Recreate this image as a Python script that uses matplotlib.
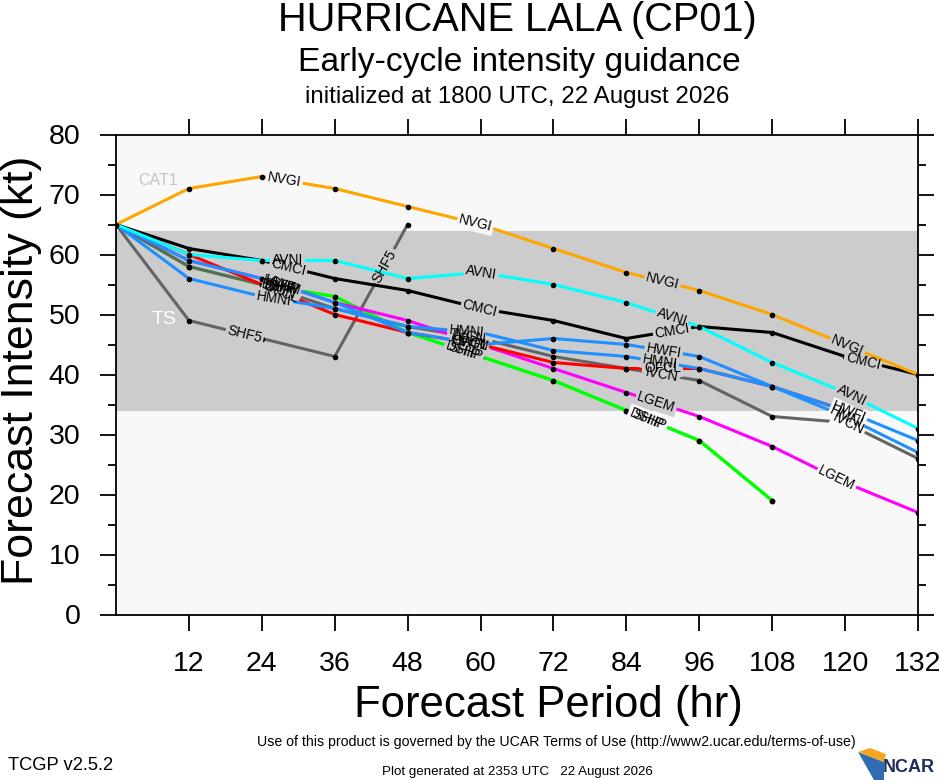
import numpy as np
import matplotlib
matplotlib.use("Agg")
import matplotlib.pyplot as plt
from matplotlib.ticker import MultipleLocator
from matplotlib.patches import Polygon

plt.rcParams['font.family'] = ['Liberation Sans', 'DejaVu Sans']

# ---------------- data ----------------
hours = [0, 12, 24, 36, 48, 60, 72, 84, 96, 108, 120, 132]
tick_labels = ['12', '24', '36', '48', '60', '72', '84', '96', '108', '120', '132']

shf5 = [65, 49, 46, 43, 65]
ivcn = [65, 58, 55, 51, 48, 46, 43, 41, 39, 33, 32, 26]
ship = [65, 58, 55, 53, 47, 43, 39, 34, 29, 19]
dshp = [65, 58, 55, 53, 47, 43, 39, 34, 29, 19]
lgem = [65, 59, 56, 52, 49, 45, 41, 37, 33, 28, 22, 17]
ofcl = [65, 60, 55, 50, 47, 45, 42, 41, 41, 38, 34]
hmni = [65, 56, 53, 51, 48, 47, 44, 43, 41, 38, 33, 27]
hwfi = [65, 59, 56, 52, 47, 45, 46, 45, 43, 38, 34, 29]
cmci = [65, 61, 59, 56, 54, 51, 49, 46, 48, 47, 43, 40]
avni = [65, 60, 59, 59, 56, 57, 55, 52, 48, 42, 37, 31]
nvgi = [65, 71, 73, 71, 68, 65, 61, 57, 54, 50, 45, 40]

models = [
    ('SHIP', ship, '#00ff00'),
    ('DSHP', dshp, '#00ff00'),
    ('SHF5', shf5, '#646464'),
    ('IVCN', ivcn, '#646464'),
    ('LGEM', lgem, '#ff00ff'),
    ('OFCL', ofcl, '#ff0000'),
    ('HMNI', hmni, '#1e90ff'),
    ('HWFI', hwfi, '#1e90ff'),
    ('CMCI', cmci, '#000000'),
    ('AVNI', avni, '#00ffff'),
    ('NVGI', nvgi, '#ffa500'),
]

ts_range = (34, 64)

BG = '#f8f8f8'
BAND = '#cccccc'

# ---------------- figure ----------------
W, H = 940, 780
fig = plt.figure(figsize=(W / 100, H / 100), dpi=100)
ax = fig.add_axes([116 / W, (H - 614.5) / H, (918 - 116) / W, (614.5 - 134.5) / H])
ax.set_xlim(0, 132)
ax.set_ylim(0, 80)
ax.set_facecolor(BG)
ax.axhspan(ts_range[0], ts_range[1], color=BAND, zorder=0.5, lw=0)

ax.set_xticks(hours[1:])
ax.set_xticklabels(tick_labels)
ax.yaxis.set_major_locator(MultipleLocator(10))
ax.yaxis.set_minor_locator(MultipleLocator(5))
ax.tick_params(which='both', direction='out', top=True, right=True,
               labeltop=False, labelright=False, width=1.3, color='black')
ax.tick_params(which='major', length=11.5, labelsize=20.5)
ax.tick_params(axis='x', which='major', pad=15)
ax.tick_params(axis='y', which='major', pad=14)
ax.tick_params(which='minor', length=5.8)
for s in ax.spines.values():
    s.set_linewidth(1.3)

ax.text(7.0, 72.3, 'CAT1', color='#c4c4c4', fontsize=11.5, ha='center', va='center', zorder=1)
ax.text(7.9, 49.2, 'TS', color='white', fontsize=14, ha='center', va='center', zorder=1)


def place_labels(x, y, name, z, s0=178.0, ds=196.0):
    pts = ax.transData.transform(np.column_stack([x, y]))
    seg = np.diff(pts, axis=0)
    seglen = np.hypot(seg[:, 0], seg[:, 1])
    cum = np.concatenate([[0], np.cumsum(seglen)])
    total = cum[-1]
    s = s0
    inv = ax.transData.inverted()
    while s < total - 15:
        i = np.searchsorted(cum, s) - 1
        i = max(0, min(i, len(seglen) - 1))
        f = (s - cum[i]) / seglen[i]
        p = pts[i] + f * seg[i]
        ang = np.degrees(np.arctan2(seg[i, 1], seg[i, 0]))
        dx, dy = inv.transform(p)
        bg = BAND if ts_range[0] <= dy <= ts_range[1] else BG
        ax.text(dx, dy, name, fontsize=10, color=(0, 0, 0, 0), ha='center', va='center',
                rotation=ang, rotation_mode='anchor', zorder=z + 0.5,
                bbox=dict(boxstyle='square,pad=0.12', fc=bg, ec='none'))
        ax.text(dx, dy, name, fontsize=10, color='black', ha='center', va='center',
                rotation=ang, rotation_mode='anchor', zorder=100)
        s += ds


for k, (name, vals, col) in enumerate(models):
    x = hours[:len(vals)]
    z = 2 + 2 * k
    ax.plot(x, vals, color=col, lw=2.2, zorder=z, solid_joinstyle='miter')
    ax.plot(x, vals, ls='none', marker='o', ms=3.0, color='black', zorder=z + 0.1)
    place_labels(x, vals, name, z)

# ---------------- text ----------------
renderer = fig.canvas.get_renderer()


def fit(t, target):
    w = t.get_window_extent(renderer).width
    t.set_fontsize(t.get_fontsize() * target / w)


cx = 517 / W
t1 = fig.text(cx, 1 - 20 / H, 'HURRICANE LALA (CP01)', ha='center', va='center', fontsize=28)
fit(t1, 479)
t2 = fig.text(cx + 2.5 / W, 1 - 62 / H, 'Early-cycle intensity guidance', ha='center', va='center', fontsize=24)
fit(t2, 443)
t3 = fig.text(cx, 1 - 97 / H, 'initialized at 1800 UTC, 22 August 2026', ha='center', va='center', fontsize=17)
fit(t3, 425)

yl = fig.text(22 / W, 1 - 370 / H, 'Forecast Intensity (kt)', rotation=90, ha='center', va='center', fontsize=31)
fit_h = yl.get_window_extent(renderer).height
yl.set_fontsize(yl.get_fontsize() * 430 / fit_h)
xl = fig.text(548.5 / W, 1 - 706 / H, 'Forecast Period (hr)', ha='center', va='center', fontsize=31)
fit(xl, 387)

f1 = fig.text(556.5 / W, 1 - 742 / H,
              'Use of this product is governed by the UCAR Terms of Use (http://www2.ucar.edu/terms-of-use)',
              ha='center', va='center', fontsize=10)
fit(f1, 597)
f2 = fig.text(8 / W, 1 - 765 / H, 'TCGP v2.5.2', ha='left', va='center', fontsize=13)
fit(f2, 105)
f3 = fig.text(517 / W, 1 - 772 / H, 'Plot generated at 2353 UTC   22 August 2026', ha='center', va='center', fontsize=9)
fit(f3, 271)

# NCAR logo (decoration)
fig.patches.append(Polygon([[858 / W, 1 - 752 / H], [884 / W, 1 - 762 / H], [884 / W, 1 - 780 / H],
                            [874 / W, 1 - 780 / H]], closed=True, transform=fig.transFigure,
                           fc='#2f6db3', ec='none'))
fig.patches.append(Polygon([[858 / W, 1 - 752 / H], [870 / W, 1 - 748 / H], [886 / W, 1 - 754 / H],
                            [884 / W, 1 - 762 / H]], closed=True, transform=fig.transFigure,
                           fc='#f5a623', ec='none'))
nc = fig.text(935 / W, 1 - 768 / H, 'NCAR', ha='right', va='center', fontsize=17,
              fontweight='bold', color='#1c2d5a')
fit(nc, 52)

fig.savefig('out.png', dpi=100, facecolor='white')
